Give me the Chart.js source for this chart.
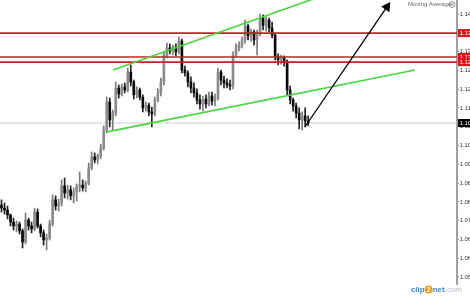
<!DOCTYPE html>
<html><head><meta charset="utf-8">
<script src="https://cdn.jsdelivr.net/npm/chart.js@4/dist/chart.umd.min.js"></script>
<style>html,body{margin:0;padding:0;background:#fff;overflow:hidden}#wrap{width:470px;height:296px;position:relative}</style>
</head><body><div id="wrap"><canvas id="c" width="470" height="296"></canvas></div>
<script>
// Candle data (EURUSD-like), one bar per slot
const openP = [1.0793,1.0782,1.0775,1.0758,1.0733,1.0719,1.0726,1.0702,1.0663,1.0740,
1.0719,1.0709,1.0768,1.0719,1.0695,1.0670,1.0677,1.0726,1.0811,1.0789,
1.0800,1.0860,1.0835,1.0846,1.0825,1.0839,1.0856,1.0863,1.0853,1.0870,
1.0923,1.0962,1.0951,1.0965,1.0993,1.1057,1.1155,1.1092,1.1116,1.1204,
1.1183,1.1208,1.1197,1.1260,1.1225,1.1180,1.1197,1.1172,1.1134,1.1144,
1.1120,1.1113,1.1162,1.1187,1.1225,1.1320,1.1345,1.1334,1.1348,1.1331,
1.1369,1.1267,1.1257,1.1225,1.1204,1.1187,1.1162,1.1148,1.1165,1.1148,
1.1176,1.1158,1.1169,1.1260,1.1232,1.1222,1.1215,1.1211,1.1320,1.1345,
1.1355,1.1373,1.1422,1.1387,1.1401,1.1373,1.1397,1.1450,1.1425,1.1443,
1.1415,1.1390,1.1313,1.1303,1.1310,1.1295,1.1197,1.1162,1.1141,1.1116,
1.1092,1.1106,1.1088];
const highP = [1.0811,1.0800,1.0789,1.0761,1.0747,1.0737,1.0733,1.0709,1.0765,1.0747,
1.0733,1.0782,1.0779,1.0726,1.0705,1.0691,1.0740,1.0828,1.0825,1.0814,
1.0881,1.0888,1.0863,1.0860,1.0853,1.0867,1.0909,1.0881,1.0877,1.0941,
1.0979,1.0976,1.0972,1.1007,1.1071,1.1172,1.1169,1.1127,1.1225,1.1215,
1.1218,1.1222,1.1274,1.1285,1.1232,1.1208,1.1204,1.1180,1.1155,1.1151,
1.1137,1.1172,1.1201,1.1239,1.1331,1.1362,1.1359,1.1355,1.1359,1.1383,
1.1376,1.1281,1.1264,1.1243,1.1222,1.1201,1.1180,1.1176,1.1180,1.1190,
1.1190,1.1183,1.1274,1.1267,1.1246,1.1236,1.1232,1.1331,1.1359,1.1366,
1.1383,1.1443,1.1429,1.1411,1.1408,1.1408,1.1464,1.1461,1.1454,1.1450,
1.1436,1.1397,1.1324,1.1320,1.1317,1.1303,1.1211,1.1169,1.1151,1.1134,
1.1120,1.1134,1.1106];
const lowP = [1.0768,1.0761,1.0744,1.0719,1.0705,1.0698,1.0691,1.0642,1.0656,1.0705,
1.0695,1.0702,1.0712,1.0681,1.0652,1.0635,1.0670,1.0719,1.0775,1.0772,
1.0789,1.0818,1.0814,1.0811,1.0800,1.0807,1.0839,1.0842,1.0839,1.0863,
1.0916,1.0941,1.0937,1.0955,1.0986,1.1046,1.1067,1.1057,1.1106,1.1169,
1.1176,1.1187,1.1190,1.1211,1.1165,1.1169,1.1162,1.1120,1.1123,1.1106,
1.1067,1.1106,1.1155,1.1176,1.1215,1.1310,1.1324,1.1320,1.1317,1.1324,
1.1257,1.1246,1.1208,1.1187,1.1172,1.1148,1.1130,1.1123,1.1134,1.1141,
1.1144,1.1141,1.1162,1.1215,1.1204,1.1204,1.1197,1.1201,1.1313,1.1334,
1.1345,1.1362,1.1373,1.1369,1.1355,1.1320,1.1387,1.1408,1.1404,1.1401,
1.1380,1.1303,1.1285,1.1288,1.1281,1.1180,1.1148,1.1123,1.1099,1.1060,
1.1057,1.1067,1.1071];
const closeP = [1.0782,1.0775,1.0758,1.0733,1.0719,1.0726,1.0702,1.0663,1.0740,1.0719,
1.0709,1.0768,1.0719,1.0695,1.0670,1.0677,1.0726,1.0811,1.0789,1.0800,
1.0860,1.0835,1.0846,1.0825,1.0839,1.0856,1.0863,1.0853,1.0870,1.0923,
1.0962,1.0951,1.0965,1.0993,1.1057,1.1155,1.1092,1.1116,1.1204,1.1183,
1.1208,1.1197,1.1260,1.1225,1.1180,1.1197,1.1172,1.1134,1.1144,1.1120,
1.1113,1.1162,1.1187,1.1225,1.1320,1.1345,1.1334,1.1348,1.1331,1.1369,
1.1267,1.1257,1.1225,1.1204,1.1187,1.1162,1.1148,1.1165,1.1148,1.1176,
1.1158,1.1169,1.1260,1.1232,1.1222,1.1215,1.1211,1.1320,1.1345,1.1355,
1.1373,1.1422,1.1387,1.1401,1.1373,1.1397,1.1450,1.1425,1.1443,1.1415,
1.1390,1.1313,1.1303,1.1310,1.1295,1.1197,1.1162,1.1141,1.1116,1.1092,
1.1106,1.1088,1.1081];
const priceTicks = [1.0540,1.0606,1.0672,1.0738,1.0804,1.0870,1.0936,1.1002,1.1068,1.1134,1.1200,1.1266,1.1332,1.1398,1.1464];
const resistanceLevels = [1.1397, 1.1313, 1.1295];
const currentPrice = 1.1081;
const upperTrend = [{x:37.1,y:1.1267},{x:109.3,y:1.1538}];
const lowerTrend = [{x:35.1,y:1.1050},{x:137.5,y:1.1267}];
const arrowPath = [{x:100.9,y:1.1067},{x:128.2,y:1.1489}];
const totalSlots = 152;
const priceMin = 1.05153, priceMax = 1.15133;

const idx = openP.map((_, i) => i);
const bodies = idx.map(i => ({x:i, y:[openP[i], closeP[i]]}));
const wicks = idx.map(i => ({x:i, y:[lowP[i], highP[i]]}));
const bullish = i => closeP[i] >= openP[i];
const hline = v => [{x:-0.5,y:v},{x:totalSlots-0.5,y:v}];

const lineDS = (data, color, width) => ({type:'line', data, borderColor:color, borderWidth:width, pointRadius:0, fill:false, tension:0, order:-1});

const datasets = [
  lineDS(arrowPath, '#000', 1.3),
  lineDS(upperTrend, 'rgb(70,215,60)', 1.6),
  lineDS(lowerTrend, 'rgb(70,215,60)', 1.6),
  ...resistanceLevels.map(v => lineDS(hline(v), 'rgb(195,35,35)', 1.6)),
  {type:'line', data:hline(currentPrice), borderColor:'#cfcfcf', borderWidth:1, pointRadius:0, order:5},
  {type:'bar', data:bodies, grouped:false, barThickness:2, borderWidth:0, borderSkipped:false,
   backgroundColor: c => bullish(c.dataIndex) ? '#8c8c8c' : '#0a0a0a', order:1},
  {type:'bar', data:wicks, grouped:false, barThickness:1, borderWidth:0, borderSkipped:false,
   backgroundColor: c => bullish(c.dataIndex) ? '#7a7a7a' : '#222', order:2}
];
// arrowhead on the arrow line
datasets[0].pointRadius = [0, 4.5];
datasets[0].pointStyle = 'triangle';
datasets[0].rotation = [0, 34];
datasets[0].pointBackgroundColor = '#000';
datasets[0].pointBorderColor = '#000';

const LABEL_FONT = '"Liberation Sans", Arial, sans-serif';

const overlay = {
  id:'overlay',
  afterDraw(chart){
    const ctx = chart.ctx, ys = chart.scales.y, a = chart.chartArea;
    ctx.save();
    ctx.textBaseline = 'middle';
    ctx.textAlign = 'left';
    ctx.font = '6px ' + LABEL_FONT;
    const box = (v, bg) => {
      const py = ys.getPixelForValue(v);
      ctx.fillStyle = bg; ctx.fillRect(a.right + 1, py - 4, 20, 8);
      ctx.fillStyle = '#fff'; ctx.fillText(v.toFixed(5), a.right + 2.5, py + 0.5);
    };
    resistanceLevels.forEach(v => box(v, '#d41818'));
    box(currentPrice, '#000');
    // indicator caption
    ctx.fillStyle = '#666';
    ctx.font = '6px ' + LABEL_FONT;
    ctx.fillText('Moving Average', 408, 4.5);
    ctx.strokeStyle = '#777'; ctx.lineWidth = 0.8;
    ctx.beginPath(); ctx.arc(452, 4.5, 3, 0, Math.PI*2); ctx.stroke();
    ctx.beginPath(); ctx.moveTo(450.4,2.9); ctx.lineTo(453.6,6.1); ctx.moveTo(453.6,2.9); ctx.lineTo(450.4,6.1); ctx.stroke();
    // watermark, fitted into x 410..462
    const wy = 289.5, fs = 8;
    const parts = () => {
      ctx.font = 'bold ' + fs + 'px ' + LABEL_FONT;
      const w1 = ctx.measureText('clip').width, w3 = ctx.measureText('net').width;
      ctx.font = fs + 'px ' + LABEL_FONT;
      const w4 = ctx.measureText('.com').width;
      return [w1, fs, w3, w4];
    };
    const [w1, w2, w3, w4] = parts();
    let x = 462 - (w1 + w2 + w3 + w4);
    ctx.font = 'bold ' + fs + 'px ' + LABEL_FONT;
    ctx.fillStyle = '#3d8ad0'; ctx.fillText('clip', x, wy); x += w1;
    ctx.fillStyle = '#f29a1f'; ctx.beginPath(); ctx.arc(x + w2/2, wy, w2/2, 0, Math.PI*2); ctx.fill();
    ctx.fillStyle = '#fff'; ctx.font = 'bold 6.5px ' + LABEL_FONT; ctx.textAlign = 'center';
    ctx.fillText('2', x + w2/2, wy + 0.5); ctx.textAlign = 'left'; x += w2;
    ctx.font = 'bold ' + fs + 'px ' + LABEL_FONT;
    ctx.fillStyle = '#3d8ad0'; ctx.fillText('net', x, wy); x += w3;
    ctx.font = fs + 'px ' + LABEL_FONT;
    ctx.fillStyle = '#b4bcc8'; ctx.fillText('.com', x, wy);
    ctx.restore();
  }
};

new Chart(document.getElementById('c'), {
  type:'bar',
  data:{datasets},
  options:{
    responsive:false, animation:false,
    layout:{autoPadding:false, padding:{left:0, top:0, right:0, bottom:12}},
    plugins:{legend:{display:false}, tooltip:{enabled:false}},
    scales:{
      x:{type:'linear', min:-0.5, max:totalSlots-0.5, offset:false, display:false},
      y:{type:'linear', position:'right', min:priceMin, max:priceMax,
         afterBuildTicks: s => { s.ticks = priceTicks.map(v => ({value:v})); },
         afterFit: s => { s.width = 13; s.paddingTop = 0; s.paddingBottom = 0; },
         border:{display:true, color:'#a0a0a0', width:2},
         grid:{drawOnChartArea:false, drawTicks:true, tickLength:2, color:'#888'},
         ticks:{padding:0.5, color:'#333', font:{family:'Liberation Sans', size:6}, callback: v => v.toFixed(5)}
      }
    }
  },
  plugins:[overlay]
});
</script></body></html>
